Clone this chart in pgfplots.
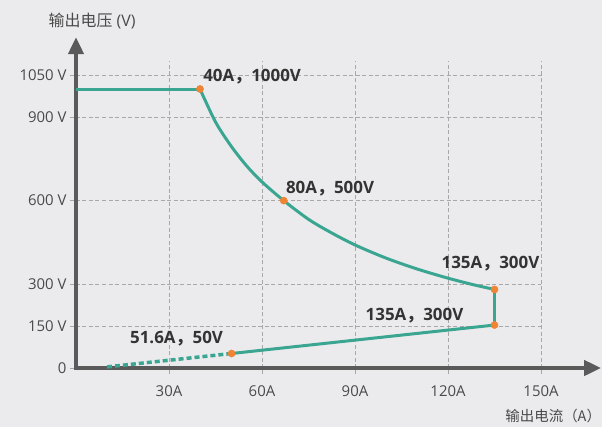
\documentclass[border=0pt]{standalone}
\usepackage{pgfplots}
\pgfplotsset{compat=1.18}
\usepackage{fontspec}
\setmainfont{Open Sans}
\newfontfamily\cjk{Noto Sans CJK SC}
\usetikzlibrary{arrows.meta}
\definecolor{bg}{HTML}{EBEBED}
\definecolor{lineteal}{HTML}{3AA692}
\definecolor{dotorange}{HTML}{EE8434}
\definecolor{gridgray}{HTML}{A8A8A8}
\definecolor{axisgray}{HTML}{5A5A5A}
\definecolor{ticktext}{HTML}{4A4A4A}
\definecolor{labeltext}{HTML}{333333}
\begin{document}
\begin{tikzpicture}[x=1bp,y=1bp]
\fill[bg] (-76,-59) rectangle (526,368);
\begin{axis}[
  anchor=south west, at={(0,0)},
  scale only axis, width=465bp, height=306.9bp,
  xmin=0, xmax=150, ymin=0, ymax=1100,
  clip=false,
  axis line style={draw=none},
  xtick={30,60,90,120,150},
  xticklabels={30A,60A,90A,120A,150A},
  ytick={0,150,300,600,900,1050},
  yticklabels={0,150 V,300 V,600 V,900 V,1050 V},
  tick pos=left, tick align=outside, major tick length=6bp,
  tick style={color=gridgray, line width=0.8bp},
  grid=major,
  major grid style={color=gridgray, line width=0.8bp, dash pattern=on 4bp off 2.5bp},
  ticklabel style={font=\fontsize{15}{18}\selectfont, text=ticktext},
  xticklabel style={yshift=-8bp},
]
\draw[axisgray, line width=4bp, line join=miter,
  {Triangle[length=17bp,width=15bp]}-{Triangle[length=17bp,width=15bp]}]
  (axis cs:0,1186) -- (axis cs:0,0) -- (axis cs:169.4,0);

% constant voltage
\addplot[lineteal, line width=3bp] coordinates {(0,1000) (40,1000)};
% constant power
\addplot[lineteal, line width=3bp, smooth] coordinates {
  (40,1000) (45,882) (50,796) (55,725) (60,667) (67,600) (75,533)
  (82,487) (90,441) (100,394) (110,355) (120,322) (128,299) (135,281.5)};
\addplot[lineteal, line width=3bp] coordinates {(135,281.5) (135,154)};
\addplot[lineteal, line width=3bp] coordinates {(50.2,52) (135,154)};
\addplot[lineteal, line width=3.5bp, dash pattern=on 5bp off 3bp] coordinates {(10,4) (50.2,52)};
\addplot[only marks, mark=*, mark size=3.6bp, color=dotorange] coordinates {
  (40,1000) (67,600) (135,281.5) (135,154) (50.2,52)};

\begin{scope}[every node/.style={inner sep=0, font=\fontsize{17}{20}\selectfont\bfseries, text=labeltext}]
\node[anchor=base west] at (axis cs:41,1026) {40A{\cjk ，}1000V};
\node[anchor=base west] at (axis cs:67.7,624) {80A{\cjk ，}500V};
\node[anchor=base east] at (axis cs:149.5,355) {135A{\cjk ，}300V};
\node[anchor=base east] at (axis cs:125,172) {135A{\cjk ，}300V};
\node[anchor=base west] at (axis cs:17.4,89.6) {51.6A{\cjk ，}50V};
\end{scope}

\node[font=\fontsize{16}{19}\selectfont, text=ticktext, inner sep=0] at (axis cs:5.2,1244) {{\cjk 输出电压} (V)};
\node[font=\fontsize{14.5}{17}\selectfont\cjk, text=ticktext, inner sep=0, anchor=east] at (axis cs:169.4,-172) {输出电流（A）};
\end{axis}
\pgfresetboundingbox
\useasboundingbox (-76,-59) rectangle (526,368);
\end{tikzpicture}
\end{document}
